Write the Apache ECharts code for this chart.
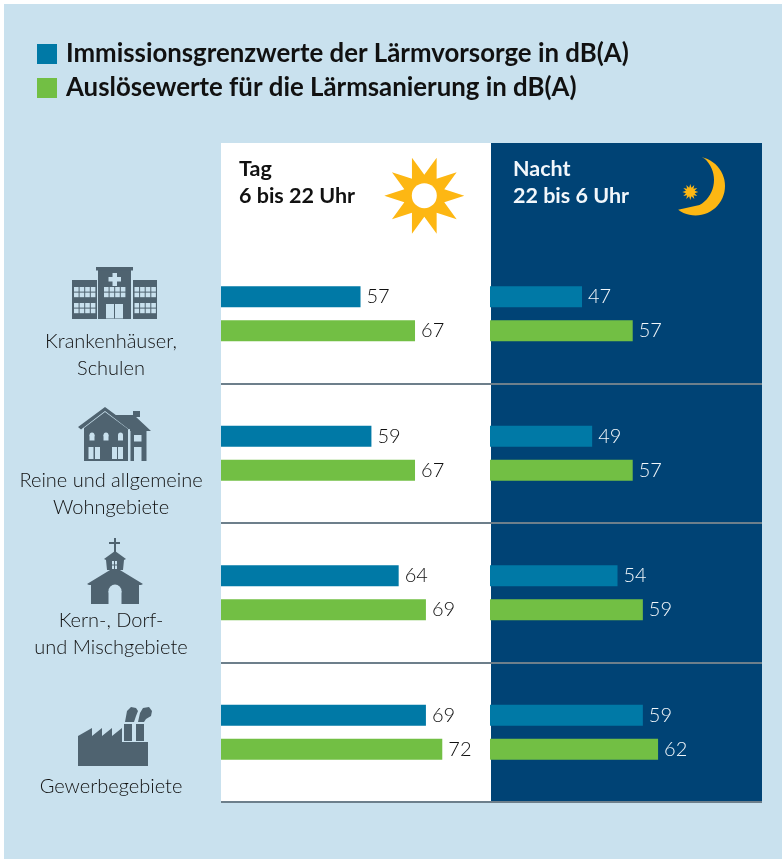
<!DOCTYPE html>
<html><head><meta charset="utf-8">
<style>html,body{margin:0;padding:0;background:#fff}#c{width:782px;height:859px}</style>
<script src="https://cdn.jsdelivr.net/npm/echarts@6/dist/echarts.min.js"></script>
</head><body><div id="c"></div>
<script>
const categories = ['Krankenhäuser,\nSchulen','Reine und allgemeine\nWohngebiete','Kern-, Dorf-\nund Mischgebiete','\nGewerbegebiete'];
const seriesNames = ['Immissionsgrenzwerte der Lärmvorsorge in dB(A)','Auslösewerte für die Lärmsanierung in dB(A)'];
const dayVorsorge = [57,59,64,69];
const daySanierung = [67,67,69,72];
const nightVorsorge = [47,49,54,59];
const nightSanierung = [57,57,59,62];
const dayHeader = ['Tag','6 bis 22 Uhr'];
const nightHeader = ['Nacht','22 bis 6 Uhr'];

const BLUE='#0079a6', GREEN='#72bf44', NAVY='#004375', BG='#c9e1ee', SUN='#fdb713', ICON='#4f6370', RULE='#6d7f8b';
const FONT='Lato';

const poly=(points,fill)=>({type:'polygon',shape:{points},style:{fill}});
const rect=(x,y,width,height,fill)=>({type:'rect',shape:{x,y,width,height},style:{fill}});
const circ=(cx,cy,r,fill)=>({type:'circle',shape:{cx,cy,r},style:{fill}});
function star(cx,cy,n,R,r,fill,start){
  const p=[];for(let i=0;i<n*2;i++){const a=(start||0)+i*Math.PI/n;const q=i%2?r:R;p.push([cx+q*Math.cos(a),cy+q*Math.sin(a)]);}
  return poly(p,fill);
}
function crescent(fill){
  const p=[];const c1=[695.5,186],r1=29.5,c2=[685,180],r2=29;
  for(let a=-78;a<=128;a+=6){const t=a*Math.PI/180;p.push([c1[0]+r1*Math.cos(t),c1[1]+r1*Math.sin(t)]);}
  for(let a=60;a>=-50;a-=6){const t=a*Math.PI/180;p.push([c2[0]+r2*Math.cos(t),c2[1]+r2*Math.sin(t)]);}
  return poly(p,fill);
}
function hospital(){
  const e=[rect(72,280,25,39,ICON),rect(98,270,33,49,ICON),rect(133,280,24,39,ICON),rect(96,267,37,3.5,ICON)];
  const wing=(x0,y0)=>{for(let c=0;c<4;c++)e.push(rect(x0+c*5.6,y0,4.6,4.6,BG),rect(x0+c*5.6,y0+5.6,4.6,4.6,BG));};
  wing(74,287);wing(74,303);wing(134.5,287);wing(134.5,303);
  for(let c=0;c<4;c++)e.push(rect(104+c*5.6,287,4.6,4.6,BG),rect(104+c*5.6,292.6,4.6,4.6,BG));
  e.push(rect(106,304,17,14.5,BG),rect(114,304,1,14.5,ICON));
  e.push(rect(112.5,273,4.5,13,BG),rect(108.5,277,12.5,4.5,BG));
  return e;
}
function house(){
  const e=[poly([[78,427],[105,407],[132,427],[129,429.5],[105,411],[81,429.5]],ICON),
    poly([[84,428],[105,412],[128,429],[128,461],[84,461]],ICON),
    poly([[112,415],[134,415],[135,416],[151,431],[130,431],[130,429],[112,415]],ICON),
    rect(133,411,7,6,ICON),rect(130.5,431,16,30,ICON)];
  const arch=(x)=>{e.push(rect(x-2.5,435,5,5.5,BG),circ(x,435,2.5,BG));};
  arch(92);arch(106);arch(120.5);
  e.push(rect(88.5,447,5,12,BG),rect(95,447,5,12,BG),rect(112,447,5,12,BG),rect(118,447,5,12,BG));
  e.push(rect(134,435,7.5,6.5,BG),rect(134,447,7.5,14,BG));
  return e;
}
function church(){
  const e=[rect(114,538,2,20,ICON),rect(109,542,11,2,ICON),
    poly([[115,551],[126,559],[124,560],[123,570],[107,570],[106,560],[104,559]],ICON),
    poly([[115,567],[143,584],[141,585],[139,585],[139,604],[91,604],[91,585],[89,585],[87,584]],ICON),
    rect(108.5,591,13,14,BG),circ(115,591,6.5,BG),rect(112,561,2,3.5,BG),rect(115,561,2,3.5,BG),rect(112,565.5,2,3.5,BG),rect(115,565.5,2,3.5,BG)];
  return e;
}
function factory(){
  const e=[poly([[78,736],[92,728],[92,736],[102,728],[102,736],[112,728],[112,736],[122,728],[122,742],[148,742],[148,766],[78,766]],ICON),
    rect(124,724,8,17,ICON),rect(136,724,8,17,ICON),
    poly([[125,722],[127,711],[131,707],[136,708],[138,711],[136,716],[134,722]],ICON),
    poly([[138,722],[140,713],[143,708],[149,707],[152,711],[151,716],[146,719],[144,722]],ICON)];
  return e;
}
const textEl=(x,y,text,fill)=>({type:'text',x,y,style:{text,fill,font:'bold 21.5px '+FONT,textAlign:'left',textVerticalAlign:'middle'}});

const band=(name,data,color,xi,labelColor)=>({
  type:'bar',name,data,xAxisIndex:xi,yAxisIndex:xi,barWidth:21,barGap:'62%',itemStyle:{color},
  label:{show:true,position:'right',distance:6,color:labelColor,fontFamily:FONT,fontWeight:300,fontSize:20}
});
const yAx=(grid,showLabel)=>({
  type:'category',gridIndex:grid,data:categories,inverse:true,
  axisLine:{show:false},axisTick:{show:false},
  axisLabel:{show:showLabel,interval:0,margin:110,align:'center',verticalAlign:'top',color:'#111',fontFamily:FONT,fontWeight:300,fontSize:20,lineHeight:27,padding:[14,0,0,0]},
  splitLine:{show:true,showMinLine:false,lineStyle:{color:RULE,width:2}}
});
const xAx=(grid,min,max)=>({type:'value',gridIndex:grid,min,max,show:false});

const chart=echarts.init(document.getElementById('c'));
chart.setOption({
  animation:false,backgroundColor:'#fff',
  legend:{orient:'vertical',left:37,top:41,padding:0,itemWidth:20,itemHeight:20,itemGap:8,icon:'rect',data:seriesNames,selectedMode:false,
    textStyle:{color:'#111',fontFamily:FONT,fontWeight:'bold',fontSize:25.8,lineHeight:20,padding:[0,0,0,4]}},
  grid:[{left:221,top:244,width:270,height:558},{left:490,top:244,width:272,height:558}],
  xAxis:[xAx(0,31.4,80.94),xAx(1,28.85,82.5)],
  yAxis:[yAx(0,true),yAx(1,false)],
  series:[
    band(seriesNames[0],dayVorsorge,BLUE,0,'#111'),
    band(seriesNames[1],daySanierung,GREEN,0,'#111'),
    band(seriesNames[0],nightVorsorge,BLUE,1,'#f0f6fa'),
    band(seriesNames[1],nightSanierung,GREEN,1,'#f0f6fa')
  ],
  graphic:{elements:[
    {type:'group',z:-10,silent:true,children:[
      rect(4,4,778,855,BG),rect(221,143,270,659,'#fff'),rect(491,143,271,659,NAVY)]},
    {type:'group',z:10,silent:true,children:[
      textEl(239,169,dayHeader[0],'#111'),textEl(239,196,dayHeader[1],'#111'),
      textEl(513,169,nightHeader[0],'#f2f7fb'),textEl(513,196,nightHeader[1],'#f2f7fb'),
      star(424.3,195.7,10,40,21,SUN),circ(424.3,195.7,12.5,'#fff'),
      crescent(SUN),star(690.3,192,12,8,4.5,SUN),
      ...hospital(),...house(),...church(),...factory()]}
  ]}
});
</script></body></html>
